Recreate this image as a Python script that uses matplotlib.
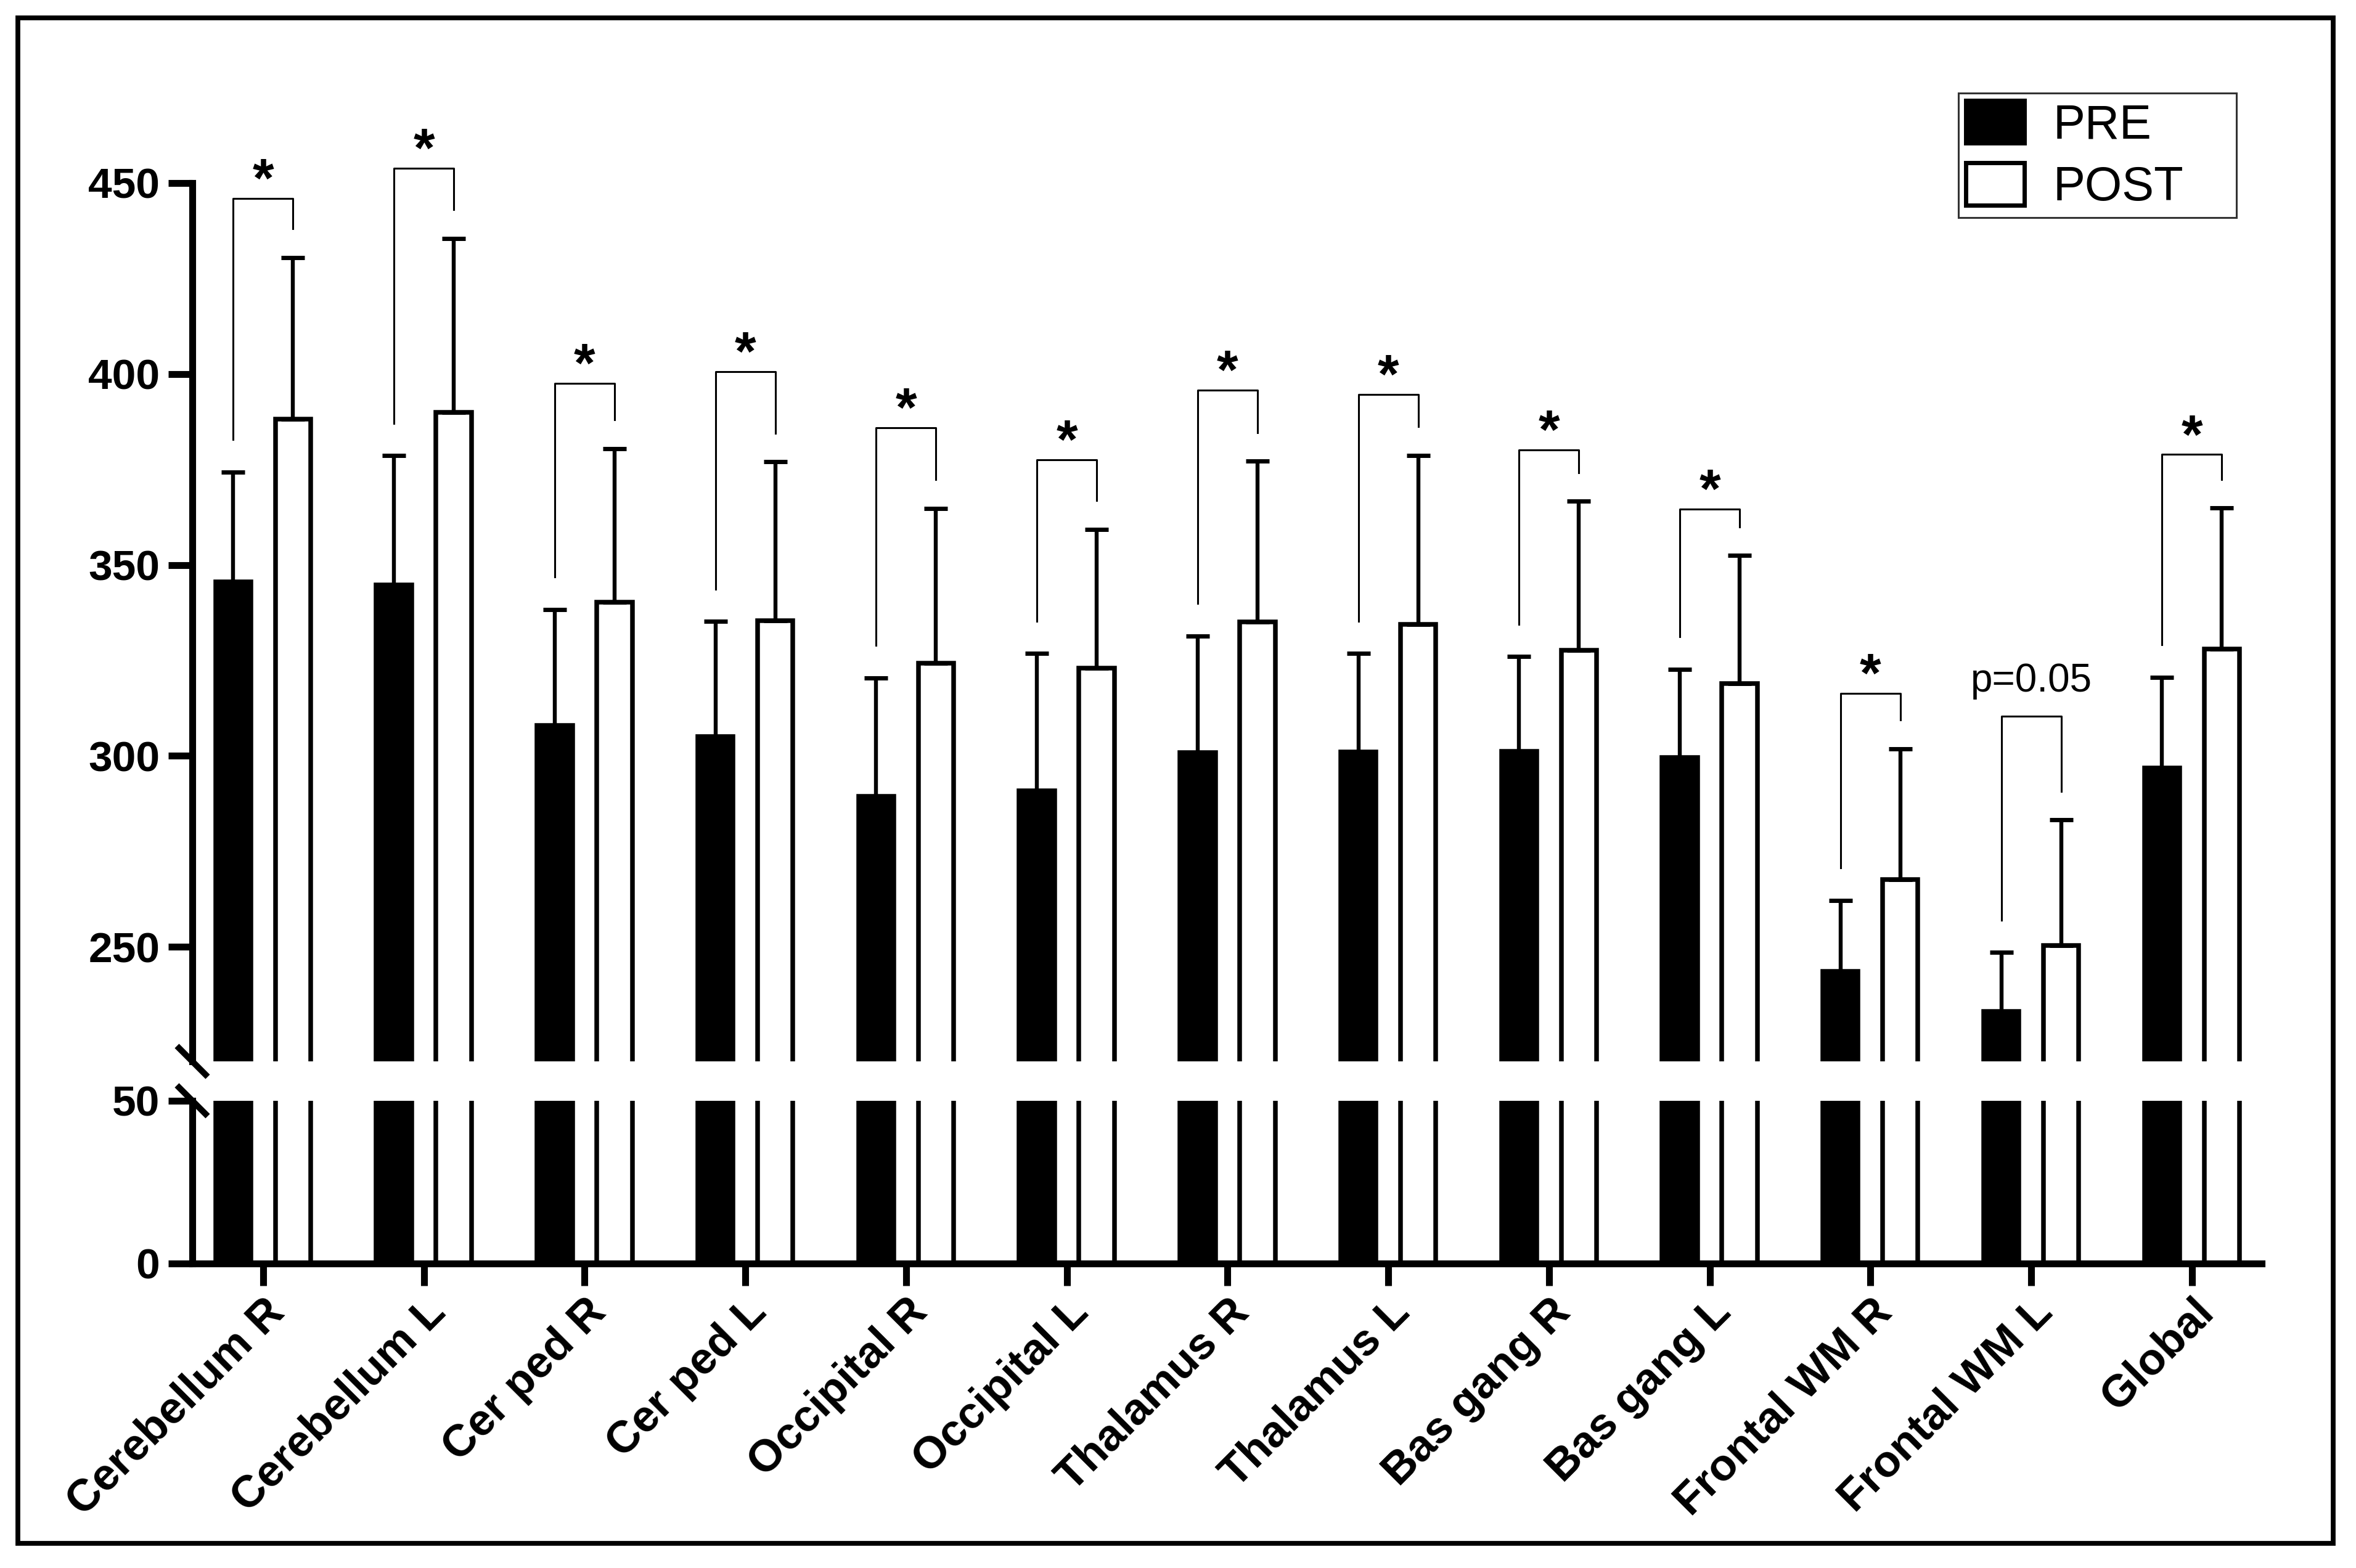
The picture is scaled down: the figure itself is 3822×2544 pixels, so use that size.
import numpy as np
import matplotlib
matplotlib.use("Agg")
from matplotlib import pyplot as plt
from matplotlib.patches import Patch, Rectangle
from matplotlib.lines import Line2D

plt.rcParams['font.family'] = ['Liberation Sans', 'DejaVu Sans']

regions = ['Cerebellum R', 'Cerebellum L', 'Cer ped R', 'Cer ped L', 'Occipital R',
           'Occipital L', 'Thalamus R', 'Thalamus L', 'Bas gang R', 'Bas gang L',
           'Frontal WM R', 'Frontal WM L', 'Global']
pre = [345.5, 344.7, 308.0, 305.0, 289.4, 290.8, 300.9, 301.1, 301.2, 299.5, 243.5, 233.0, 296.9]
pre_sd = [28.8, 33.9, 30.3, 30.2, 31.0, 36.0, 30.5, 25.7, 24.8, 23.2, 18.7, 15.5, 23.7]
post = [388.1, 390.0, 340.3, 335.4, 324.2, 322.9, 335.1, 334.5, 327.6, 318.9, 267.6, 250.3, 328.0]
post_sd = [42.4, 45.5, 40.2, 41.6, 40.6, 36.4, 42.1, 44.2, 39.1, 33.6, 34.3, 32.9, 36.9]
bracket_y = [446.0, 453.9, 397.6, 400.6, 385.9, 377.5, 395.7, 394.7, 380.1, 364.6, 316.4, 310.4, 378.9]
sig = ['*', '*', '*', '*', '*', '*', '*', '*', '*', '*', '*', 'p=0.05', '*']

x = np.arange(len(regions))
off = 0.186
w = 0.22

fig = plt.figure(figsize=(19.115, 12.72), dpi=200)
ax_top = fig.add_axes([0.0816, 0.3231, 0.8781, 0.5602])
ax_bot = fig.add_axes([0.0816, 0.1942, 0.8781, 0.1038])

for ax in (ax_top, ax_bot):
    ax.bar(x - off, pre, w, color='k', edgecolor='k', lw=2.7, zorder=2)
    ax.bar(x + off, post, w, color='w', edgecolor='k', lw=2.7, zorder=2)
    ax.set_xlim(-0.441, 12.434)
    ax.spines['top'].set_visible(False)
    ax.spines['right'].set_visible(False)
    ax.spines['left'].set_linewidth(4)
    ax.spines['bottom'].set_linewidth(4)
    ax.tick_params(axis='y', direction='out', length=14, width=4, labelsize=25, pad=5)

ax_top.errorbar(x - off, pre, yerr=[np.zeros(len(x)), pre_sd], fmt='none', ecolor='k',
                elinewidth=2.3, capsize=6.8, capthick=2.5, zorder=3)
ax_top.errorbar(x + off, post, yerr=[np.zeros(len(x)), post_sd], fmt='none', ecolor='k',
                elinewidth=2.3, capsize=6.8, capthick=2.5, zorder=3)

ax_top.set_ylim(220, 450)
ax_top.set_yticks([250, 300, 350, 400, 450])
ax_top.spines['bottom'].set_visible(False)
ax_top.tick_params(axis='x', bottom=False, labelbottom=False)
for lab in ax_top.get_yticklabels():
    lab.set_fontweight('bold')

ax_bot.set_ylim(0, 50)
ax_bot.set_yticks([0, 50])
ax_bot.set_xticks(x)
ax_bot.set_xticklabels(regions, rotation=45, ha='right', va='top', rotation_mode='anchor',
                       fontsize=26, fontweight='bold')
ax_bot.tick_params(axis='x', direction='out', length=13, width=4, pad=3)
for lab in ax_bot.get_yticklabels():
    lab.set_fontweight('bold')

# significance brackets
for i in range(len(x)):
    xl, xr = x[i] - off, x[i] + off
    yb = bracket_y[i]
    ax_top.plot([xl, xl, xr, xr],
                [pre[i] + pre_sd[i] + 8.5, yb, yb, post[i] + post_sd[i] + 7.5],
                color='k', lw=1.1, clip_on=False, zorder=4)
    if sig[i] == '*':
        ax_top.text(x[i], yb + 0.5, '*', ha='center', va='baseline', fontsize=32,
                    fontweight='bold', clip_on=False)
    else:
        ax_top.text(x[i], yb + 6.5, sig[i], ha='center', va='baseline', fontsize=23,
                    clip_on=False)

# axis break marks
dx, dy = 0.00654, 0.00983
for cy in (0.3231, 0.2980):
    fig.add_artist(Line2D([0.0816 - dx, 0.0816 + dx], [cy + dy, cy - dy],
                          transform=fig.transFigure, color='k', lw=3.6,
                          solid_capstyle='butt'))

handles = [Patch(facecolor='k', edgecolor='k', lw=2.5, label='PRE'),
           Patch(facecolor='w', edgecolor='k', lw=2.5, label='POST')]
leg = fig.legend(handles=handles, loc='upper left', bbox_to_anchor=(0.831, 0.860, 0.118, 0.0806),
                 mode='expand', fontsize=28, frameon=True, fancybox=False, borderaxespad=0,
                 borderpad=0.15, labelspacing=0.3, handlelength=1.23, handleheight=1.0,
                 handletextpad=0.6)
leg.get_frame().set_edgecolor('k')
leg.get_frame().set_linewidth(1.1)

# outer frame
fig.add_artist(Rectangle((0.0076, 0.0157), 0.9824, 0.9729, transform=fig.transFigure,
                         fill=False, lw=2.8, ec='k'))

fig.savefig('out.png', dpi=200)
